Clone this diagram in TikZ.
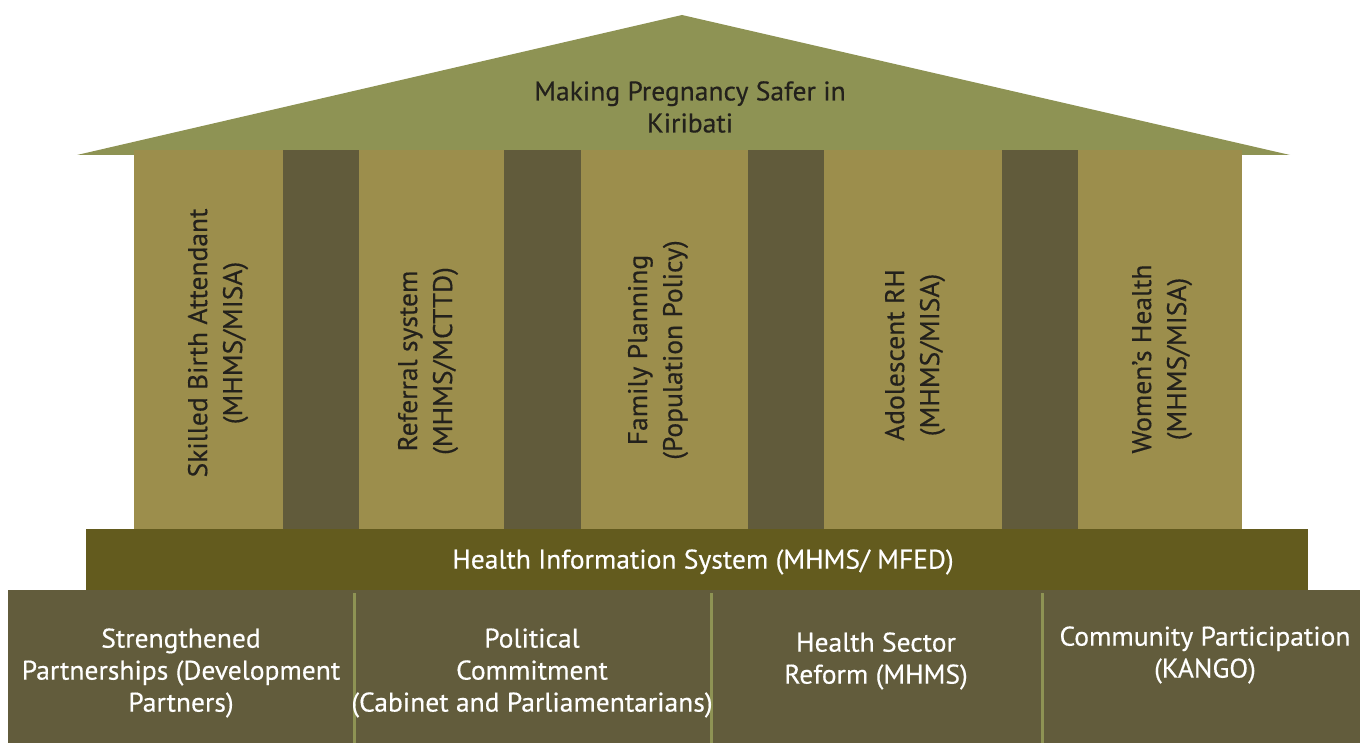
\documentclass[tikz,border=0pt]{standalone}
\usepackage{fontspec}
\setmainfont[FakeStretch=1.02, FakeBold=0.4]{PT Sans}
\usetikzlibrary{positioning}

\definecolor{roofgreen}{RGB}{142,147,84}
\definecolor{wallkhaki}{RGB}{156,142,76}
\definecolor{pillardark}{RGB}{97,91,59}
\definecolor{bandolive}{RGB}{99,91,30}
\definecolor{basedark}{RGB}{98,92,60}
\definecolor{inkdark}{RGB}{35,33,28}

\begin{document}
\begin{tikzpicture}[x=0.5pt, y=-0.5pt]

% Define styles
\tikzstyle{roof_text} = [text centered, align=center, text=inkdark, font=\fontsize{13.5}{16}\selectfont]
\tikzstyle{pillar_text} = [rotate=90, align=center, text=inkdark, font=\fontsize{13.5}{17.5}\selectfont]
\tikzstyle{band_text} = [text centered, text=white, font=\fontsize{13.5}{16}\selectfont]
\tikzstyle{base_text} = [align=center, text=white, font=\fontsize{13.5}{16}\selectfont]
\tikzstyle{divider} = [draw=roofgreen, line width=1.5pt]

\useasboundingbox (0,0) rectangle (1360,743);

% Roof
\fill [roofgreen] (77,155) -- (682,15) -- (1290,155) -- cycle;
\node (roof_label) [roof_text] at (690,107) {Making Pregnancy Safer in\\Kiribati};

% Wall and dark columns
\fill [wallkhaki] (134,150) rectangle (1242,530);
\foreach \xa/\xb in {283/359, 504/581, 748/824, 1002/1078}
  \fill [pillardark] (\xa,150) rectangle (\xb,535);

% Pillar labels
\node (pillar_sba) [pillar_text] at (218,343) {Skilled Birth Attendant\\(MHMS/MISA)};
\node (pillar_ref) [pillar_text] at (428,361) {Referral system\\(MHMS/MCTTD)};
\node (pillar_fp) [pillar_text] at (658,350) {Family Planning\\(Population Policy)};
\node (pillar_arh) [pillar_text] at (915,355) {Adolescent RH\\(MHMS/MISA)};
\node (pillar_wh) [pillar_text] at (1162,359) {Women's Health\\(MHMS/MISA)};

% Health information system band
\fill [bandolive] (86,529) rectangle (1308,590);
\node (his) [band_text] at (703,562) {Health Information System (MHMS/ MFED)};

% Foundation
\fill [basedark] (8,590) rectangle (1360,743);
\foreach \xd in {354, 711, 1042}
  \draw [divider] (\xd,593) -- (\xd,743);

\node (base_sp) [base_text] at (181,673) {Strengthened\\Partnerships (Development\\Partners)};
\node (base_pc) [base_text] at (532,673) {Political\\Commitment\\(Cabinet and Parliamentarians)};
\node (base_hsr) [base_text] at (876,661) {Health Sector\\Reform (MHMS)};
\node (base_cp) [base_text] at (1205,655) {Community Participation\\(KANGO)};

\end{tikzpicture}
\end{document}
